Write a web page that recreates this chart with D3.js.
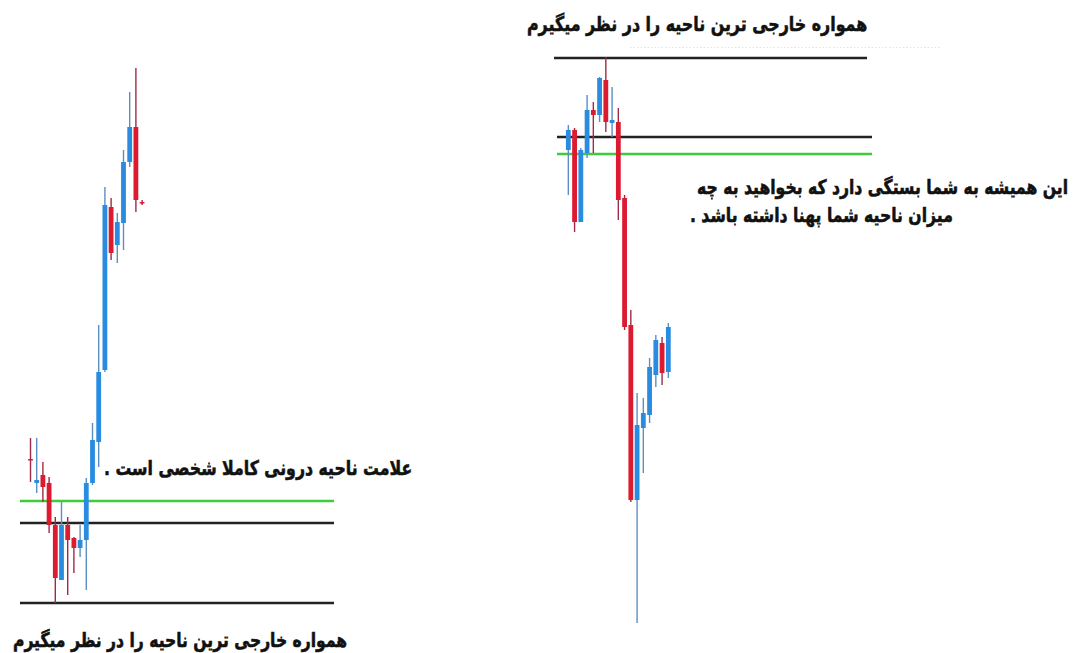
<!DOCTYPE html>
<html><head><meta charset="utf-8">
<script src="https://cdn.jsdelivr.net/npm/d3@7/dist/d3.min.js"></script>
<style>html,body{margin:0;padding:0;background:#fff;}svg{display:block;}</style>
</head><body>
<svg id="chart" width="1081" height="653"></svg>
<script>
// Price values in points (higher = higher price)
// Left chart candles: [open, high, low, close]
const leftOpen  = [191, 167, 175, 167, 125,  70, 125, 112, 102, 110, 167, 208, 280, 443, 405, 427, 488, 523, 448];
const leftHigh  = [212, 212, 188, 173, 133, 148, 133, 113, 125, 172, 227, 325, 463, 452, 437, 500, 558, 582, 450];
const leftLow   = [168, 157, 148, 117,  47,  70,  55,  77,  93,  60, 165, 183, 278, 390, 387, 400, 483, 438, 445];
const leftClose = [190, 170, 163, 125,  72, 125, 110, 102, 110, 167, 210, 278, 445, 397, 428, 488, 523, 450, 447];

// Right chart candles
const rightOpen  = [500, 520, 428, 497, 540, 535, 570, 527, 528, 452, 325, 150, 222, 235, 275, 307, 278];
const rightHigh  = [525, 522, 502, 555, 548, 573, 593, 563, 542, 455, 340, 257, 252, 292, 315, 313, 327];
const rightLow   = [455, 418, 428, 492, 497, 528, 518, 513, 430, 320, 148,  27, 177, 227, 263, 265, 272];
const rightClose = [520, 428, 500, 540, 535, 572, 528, 530, 450, 323, 150, 225, 237, 283, 310, 277, 323];

// Horizontal zone levels
const leftLevels  = [{v:149, c:"green"}, {v:127, c:"black"}, {v:47, c:"black"}];
const rightLevels = [{v:592, c:"black"}, {v:513, c:"black"}, {v:496, c:"green"}];

// Texts
const textOuter = "همواره خارجی ترین ناحیه را در نظر میگیرم";
const textInner = "علامت ناحیه درونی کاملا شخصی است .";
const textNote1 = "این همیشه به شما بستگی دارد که بخواهید به چه";
const textNote2 = "میزان ناحیه شما پهنا داشته باشد .";

const svg = d3.select("#chart");

const y = d3.scaleLinear().domain([0, 650]).range([650, 0]);

const BLUE = "#2a8ce0", RED = "#dc1a30";
const BLUE_WICK = "#5a8fc2", RED_WICK = "#a02a45";

function drawPanel(open, high, low, close, xRange, lineRanges, levels) {
  const idx = d3.range(open.length);
  const x = d3.scaleBand().domain(idx).range(xRange).padding(0);
  const bw = x.bandwidth();
  const g = svg.append("g");
  const lvl = g.append("g");
  levels.forEach((L, i) => {
    const r = lineRanges[i];
    lvl.append("line")
      .attr("x1", r[0]).attr("x2", r[1])
      .attr("y1", y(L.v)).attr("y2", y(L.v))
      .attr("stroke", L.c === "green" ? "#3ccc3c" : "#222")
      .attr("stroke-width", 2.6);
  });
  const cg = g.append("g");
  idx.forEach(i => {
    const up = close[i] >= open[i];
    const cx = x(i) + bw / 2;
    cg.append("line")
      .attr("x1", cx).attr("x2", cx)
      .attr("y1", y(high[i])).attr("y2", y(low[i]))
      .attr("stroke", up ? BLUE_WICK : RED_WICK)
      .attr("stroke-width", 1.4);
    const top = y(Math.max(open[i], close[i]));
    const bot = y(Math.min(open[i], close[i]));
    cg.append("rect")
      .attr("x", cx - 2.4).attr("width", 4.8)
      .attr("y", top).attr("height", Math.max(1.5, bot - top))
      .attr("fill", up ? BLUE : RED);
  });
}

drawPanel(leftOpen, leftHigh, leftLow, leftClose, [27.4, 27.4 + 19 * 6.2],
  [[20, 334], [20, 334], [20, 334]], leftLevels);
drawPanel(rightOpen, rightHigh, rightLow, rightClose, [565.2, 565.2 + 17 * 6.25],
  [[554, 867], [557, 872], [557, 872]], rightLevels);

// faint dotted line near top
svg.append("line").attr("x1", 630).attr("x2", 940).attr("y1", 47.5).attr("y2", 47.5)
  .attr("stroke", "#e2e2e2").attr("stroke-width", 1).attr("stroke-dasharray", "1.5,2");

function fitText(str, x0, x1, baseline, fsOverride) {
  const g = svg.append("g")
    .attr("transform", `translate(0,${baseline}) scale(1,1.28) translate(0,${-baseline})`);
  const t = g.append("text")
    .attr("x", x1).attr("y", baseline)
    .attr("direction", "rtl")
    .style("direction", "rtl")
    .attr("font-family", "DejaVu Sans, sans-serif")
    .attr("font-weight", "bold")
    .attr("font-size", 16)
    .attr("fill", "#111")
    .attr("stroke", "#111")
    .attr("stroke-width", 0.45)
    .text(str);
  let fs = fsOverride;
  if (!fs) {
    const bb = t.node().getBBox();
    fs = 16 * (x1 - x0) / bb.width;
  }
  t.attr("font-size", fs);
  const bb2 = t.node().getBBox();
  t.attr("x", x1 + (x0 - bb2.x));
  return fs;
}

fitText(textOuter, 527, 867, 31);
fitText(textOuter, 13, 347, 647);
fitText(textInner, 104, 412, 475);
const fsN = fitText(textNote1, 697, 1068, 194);
fitText(textNote2, 690, 958, 222, fsN);
</script>
</body></html>
